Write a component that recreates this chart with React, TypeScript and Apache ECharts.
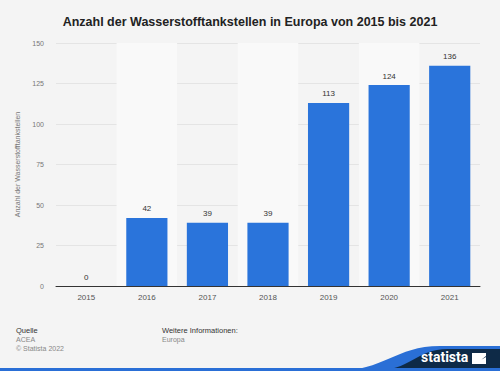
import React, { useEffect, useRef } from "react";
import * as echarts from "echarts";

const years = ["2015", "2016", "2017", "2018", "2019", "2020", "2021"];
const stations = [0, 42, 39, 39, 113, 124, 136];
const titleText = "Anzahl der Wasserstofftankstellen in Europa von 2015 bis 2021";
const yAxisName = "Anzahl der Wasserstofftankstellen";

echarts.graphic.registerShape(
  "waveBlue",
  echarts.graphic.extendPath("M335 371 C 385 371, 395 346, 440 346 L500 346 L500 371 Z", {})
);
echarts.graphic.registerShape(
  "waveDark",
  echarts.graphic.extendPath("M372 371 C 412 371, 415 349, 448 349 L500 349 L500 371 Z", {})
);
echarts.graphic.registerShape(
  "logoIcon",
  echarts.graphic.extendPath("M0 0 L14 0 L14 3 L4 11 L0 11 Z M14 4 L14 11 L2 11 Z", {})
);

export default function App() {
  const ref = useRef<HTMLDivElement>(null);
  useEffect(() => {
    document.body.style.margin = "0";
    if (!ref.current) return;
    const chart = echarts.init(ref.current, null, { renderer: "svg" });
    const font = "Liberation Sans, Arial, sans-serif";
    chart.setOption({
      animation: false,
      backgroundColor: "#f4f4f4",
      textStyle: { fontFamily: font },
      title: {
        text: titleText,
        left: "center",
        top: 10,
        textStyle: { fontSize: 12.5, fontWeight: "bold", color: "#222", fontFamily: font },
      },
      grid: { left: 56, right: 20, top: 43, bottom: 85 },
      xAxis: {
        type: "category",
        data: years,
        axisLine: { lineStyle: { color: "#333", width: 1 } },
        axisTick: { show: false },
        axisLabel: { fontSize: 8, color: "#555", margin: 7 },
        splitArea: { show: true, areaStyle: { color: ["rgba(0,0,0,0)", "#f9f9f9"] } },
      },
      yAxis: {
        type: "value",
        min: 0,
        max: 150,
        interval: 25,
        name: yAxisName,
        nameLocation: "middle",
        nameGap: 26,
        nameTextStyle: { fontSize: 7, color: "#777" },
        axisLine: { show: false },
        axisTick: { show: false },
        axisLabel: { fontSize: 7, color: "#777", margin: 12 },
        splitLine: { lineStyle: { color: "#e4e4e4", width: 1 } },
      },
      series: [
        {
          type: "bar",
          data: stations,
          barWidth: "68%",
          itemStyle: { color: "#2a74db" },
          label: { show: true, position: "top", fontSize: 8, color: "#333", distance: 5 },
        },
      ],
      graphic: [
        { type: "text", left: 16, top: 326, style: { text: "Quelle", fontSize: 7.5, fill: "#333", fontFamily: font } },
        { type: "text", left: 16, top: 336, style: { text: "ACEA", fontSize: 7, fill: "#888", fontFamily: font } },
        { type: "text", left: 16, top: 345, style: { text: "© Statista 2022", fontSize: 7, fill: "#888", fontFamily: font } },
        { type: "text", left: 162, top: 326, style: { text: "Weitere Informationen:", fontSize: 7.5, fill: "#333", fontFamily: font } },
        { type: "text", left: 162, top: 336, style: { text: "Europa", fontSize: 7, fill: "#888", fontFamily: font } },
        { type: "waveBlue", x: 0, y: 0, style: { fill: "#2a6fd6" } },
        { type: "waveDark", x: 0, y: 0, style: { fill: "#0e2a47" } },
        { type: "rect", shape: { x: 0, y: 368, width: 500, height: 3 }, style: { fill: "#2a6fd6" } },
        { type: "text", x: 421, y: 350, style: { text: "statista", fontSize: 14, fontWeight: "bold", fill: "#ffffff", fontFamily: "Roboto, sans-serif" } },
        { type: "logoIcon", x: 472, y: 353, style: { fill: "#ffffff" } },
      ],
    });
    return () => chart.dispose();
  }, []);
  return <div ref={ref} style={{ width: 500, height: 371 }} />;
}
